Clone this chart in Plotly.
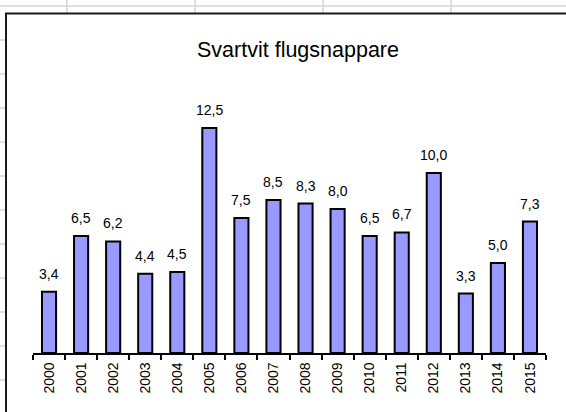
import plotly.graph_objects as go

# ---- data ----
years = ["2000", "2001", "2002", "2003", "2004", "2005", "2006", "2007",
         "2008", "2009", "2010", "2011", "2012", "2013", "2014", "2015"]
values = [3.4, 6.5, 6.2, 4.4, 4.5, 12.5, 7.5, 8.5, 8.3, 8.0, 6.5, 6.7, 10.0, 3.3, 5.0, 7.3]
title_text = "Svartvit flugsnappare"

# ---- layout geometry (pixels) ----
FIG_W, FIG_H = 566, 412
L, R, T, B = 33, 20, 101, 59
PW = FIG_W - L - R
PH = FIG_H - T - B
FONT = "Liberation Sans, Arial, sans-serif"


def px(x):
    return (x - L) / PW


def py(y):
    return (FIG_H - B - y) / PH


fig = go.Figure()
fig.add_trace(go.Bar(
    x=years, y=values,
    marker=dict(color="#9999FF", line=dict(color="#000000", width=2)),
    hoverinfo="x+y",
))

annotations = []
for i, v in enumerate(values):
    annotations.append(dict(
        x=i, y=v, xref="x", yref="y",
        text=f"{v:.1f}".replace(".", ","),
        showarrow=False, yanchor="bottom", yshift=8,
        font=dict(family=FONT, size=14, color="#000000"),
    ))

annotations.append(dict(
    x=px(297.5), y=py(50), xref="paper", yref="paper",
    text=title_text, showarrow=False, xanchor="center", yanchor="middle",
    font=dict(family=FONT, size=21.5, color="#000000"),
))

grid = "#d4d4d4"
shapes = []
# spreadsheet gridlines outside the chart
shapes.append(dict(type="line", xref="paper", yref="paper",
                   x0=px(0), x1=px(FIG_W), y0=py(6), y1=py(6),
                   line=dict(color=grid, width=1.5)))
for cx in [66.8, 195, 323, 451]:
    shapes.append(dict(type="line", xref="paper", yref="paper",
                       x0=px(cx), x1=px(cx), y0=py(0), y1=py(13),
                       line=dict(color=grid, width=1.5)))
for ry in range(40, 412, 34):
    shapes.append(dict(type="line", xref="paper", yref="paper",
                       x0=px(0), x1=px(5), y0=py(ry), y1=py(ry),
                       line=dict(color=grid, width=1.5)))
# chart area border
shapes.append(dict(type="path", xref="paper", yref="paper",
                   path=f"M {px(6)} {py(FIG_H + 5)} L {px(6)} {py(13.5)} L {px(FIG_W + 5)} {py(13.5)}",
                   line=dict(color="#1a1a1a", width=2)))

fig.update_layout(
    width=FIG_W, height=FIG_H,
    margin=dict(l=L, r=R, t=T, b=B, pad=0),
    paper_bgcolor="#ffffff", plot_bgcolor="#ffffff",
    showlegend=False,
    bargap=0.56,
    font=dict(family=FONT, size=14, color="#000000"),
    annotations=annotations,
    shapes=shapes,
    xaxis=dict(
        type="category", range=[-0.5, len(years) - 0.5], autorange=False,
        showline=True, linecolor="#000000", linewidth=1.5,
        ticks="outside", tickson="boundaries", ticklen=5, tickwidth=1.5, tickcolor="#000000",
        tickangle=-90, tickfont=dict(family=FONT, size=14, color="#000000"),
        ticklabelstandoff=2,
        showgrid=False, zeroline=False, fixedrange=True,
    ),
    yaxis=dict(
        range=[0, 14], autorange=False, visible=False, showgrid=False, zeroline=False, fixedrange=True,
    ),
)

fig.write_html(
    "out.html",
    config={"displayModeBar": False},
    post_script="document.body.style.margin='0';document.body.style.overflow='hidden';",
)
